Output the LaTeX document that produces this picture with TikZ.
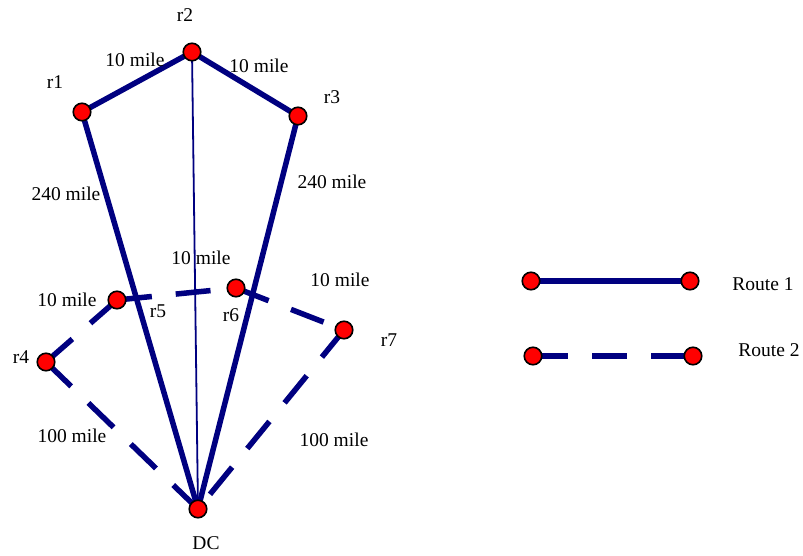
\documentclass[tikz,border=0pt]{standalone}
\usepackage{fontspec}
\setmainfont{Liberation Serif}
\definecolor{routeblue}{RGB}{0,0,128}
\definecolor{dotred}{RGB}{255,0,0}
\begin{document}
\begin{tikzpicture}[x=1pt,y=-1pt,
  dot/.style={circle,draw=black,line width=1.6pt,fill=dotred,minimum size=17.5pt,inner sep=0pt},
  lab/.style={font=\fontsize{19.5}{22}\selectfont,inner sep=0pt,anchor=center},
  routeone/.style={draw=routeblue,line width=5.5pt},
  routetwo/.style={draw=routeblue,line width=5.5pt,dash pattern=on 35pt off 24pt},
  thinline/.style={draw=routeblue,line width=1.8pt}]
\useasboundingbox (0,0) rectangle (803,556);
% node positions
\coordinate (p1) at (82,112);
\coordinate (p2) at (192,52);
\coordinate (p3) at (298,116);
\coordinate (p4) at (46,362);
\coordinate (p5) at (117,300);
\coordinate (p6) at (236,288);
\coordinate (p7) at (344,330);
\coordinate (pdc) at (198,509);
\coordinate (pa1) at (531,281);
\coordinate (pb1) at (690,281);
\coordinate (pa2) at (533,356);
\coordinate (pb2) at (693,356);
% connectors
\draw[thinline] (p2) -- (pdc);
\draw[routeone] (pdc) -- (p1) -- (p2) -- (p3) -- (pdc);
\draw[routetwo] (p4) -- (pdc);
\draw[routetwo] (p4) -- (p5);
\draw[routetwo] (p5) -- (p6);
\draw[routetwo] (p6) -- (p7);
\draw[routetwo] (p7) -- (pdc);
\draw[routeone] (pa1) -- (pb1);
\draw[routetwo] (pa2) -- (pb2);
% nodes
\node[dot] (r1) at (p1) {};
\node[dot] (r2) at (p2) {};
\node[dot] (r3) at (p3) {};
\node[dot] (r4) at (p4) {};
\node[dot] (r5) at (p5) {};
\node[dot] (r6) at (p6) {};
\node[dot] (r7) at (p7) {};
\node[dot] (dc) at (pdc) {};
\node[dot] (a1) at (pa1) {};
\node[dot] (b1) at (pb1) {};
\node[dot] (a2) at (pa2) {};
\node[dot] (b2) at (pb2) {};
% labels
\node[lab] (t2) at (185,15) {r2};
\node[lab] (t1) at (55,82) {r1};
\node[lab] (t3) at (332,97) {r3};
\node[lab] (t4) at (21,357) {r4};
\node[lab] (t5) at (158,311) {r5};
\node[lab] (t6) at (231,315) {r6};
\node[lab] (t7) at (389,340) {r7};
\node[lab] (tdc) at (206,543) {DC};
\node[lab] (m12) at (135,60) {10 mile};
\node[lab] (m23) at (259,66) {10 mile};
\node[lab] (m1d) at (66,194) {240 mile};
\node[lab] (m3d) at (332,182) {240 mile};
\node[lab] (m2d) at (201,258) {10 mile};
\node[lab] (m45) at (67,300) {10 mile};
\node[lab] (m67) at (340,280) {10 mile};
\node[lab] (m4d) at (72,436) {100 mile};
\node[lab] (m7d) at (334,440) {100 mile};
\node[lab] (l1) at (763,284) {Route 1};
\node[lab] (l2) at (769,350) {Route 2};
\end{tikzpicture}
\end{document}
